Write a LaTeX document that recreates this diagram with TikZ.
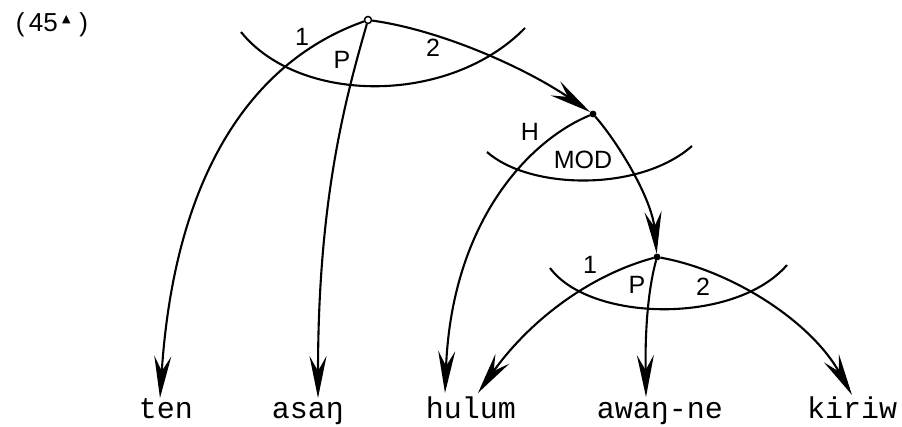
\documentclass[tikz,border=0pt]{standalone}
\usepackage{fontspec}
\setmainfont{Liberation Sans}
\newfontfamily\wordfont{Liberation Mono}
\newfontfamily\symfont{DejaVu Sans}
\usetikzlibrary{arrows.meta}
\begin{document}
\begin{tikzpicture}[x=1pt,y=-1pt,
  dot/.style={circle,draw,fill=black,inner sep=0pt,minimum size=6pt,line width=0.8pt},
  opendot/.style={circle,draw,fill=white,inner sep=0pt,minimum size=7pt,line width=1.5pt},
  arc/.style={line width=2.1pt},
  dep/.style={line width=2.1pt,-{Stealth[length=42pt,width=17pt,inset=15pt]}},
  word/.style={font=\wordfont\fontsize{30}{30}\selectfont,anchor=base,inner sep=0pt},
  role/.style={font=\fontsize{25}{25}\selectfont,inner sep=0pt}]
\useasboundingbox (0,0) rectangle (902,427);

% example number
\node[font=\fontsize{26}{26}\selectfont,inner sep=0pt] (num) at (52,25)
  {(\,45\,\raisebox{0.35em}{\symfont\fontsize{11}{11}\selectfont ▲}\,\,)};

% head points
\node[opendot] (t1) at (368,20) {};
\node[dot] (t2) at (593,114) {};
\node[dot] (t3) at (657,257) {};

% arrow tips above the words
\coordinate (tenTip) at (160,398);
\coordinate (asanTip) at (318,398);
\coordinate (hulumTip) at (445,393);
\coordinate (hulumTipB) at (478,393);
\coordinate (awanTip) at (646,397);
\coordinate (kiriwTip) at (852,395);

% words
\node[word] (ten) at (166,418) {ten};
\node[word] (asan) at (308,418) {asaŋ};
\node[word] (hulum) at (471,418) {hulum};
\node[word] (awan) at (660,418) {awaŋ-ne};
\node[word] (kiriw) at (852,418) {kiriw};

% crossing arcs of the three constructions
\coordinate (c1a) at (241,32); \coordinate (c1b) at (525,28);
\coordinate (c2a) at (487,152); \coordinate (c2b) at (692,146);
\coordinate (c3a) at (550,268); \coordinate (c3b) at (787,265);
\draw[arc] (c1a) .. controls (300,105) and (450,105) .. (c1b);
\draw[arc] (c2a) .. controls (530,190) and (640,192) .. (c2b);
\draw[arc] (c3a) .. controls (590,322) and (735,325) .. (c3b);

% top construction
\draw[dep] (t1) .. controls (255,60) and (175,170) .. (tenTip);
\draw[dep] (t1) .. controls (345,100) and (318,200) .. (asanTip);
\draw[dep] (t1) .. controls (440,30) and (524,67) .. (t2);

% modifier construction
\draw[dep] (t2) .. controls (530,140) and (452,220) .. (hulumTip);
\draw[dep] (t2) .. controls (620,145) and (652,200) .. (t3);

% lower construction
\draw[dep] (t3) .. controls (590,275) and (530,320) .. (hulumTipB);
\draw[dep] (t3) .. controls (648,290) and (645,330) .. (awanTip);
\draw[dep] (t3) .. controls (730,270) and (810,320) .. (kiriwTip);

% role labels
\node[role] (l11) at (302,37) {1};
\node[role] (l1p) at (342,60) {P};
\node[role] (l12) at (433,48) {2};
\node[role] (l2h) at (530,132) {H};
\node[role] (l2m) at (583,160) {MOD};
\node[role] (l31) at (590,265) {1};
\node[role] (l3p) at (637,285) {P};
\node[role] (l32) at (703,287) {2};
\end{tikzpicture}
\end{document}
